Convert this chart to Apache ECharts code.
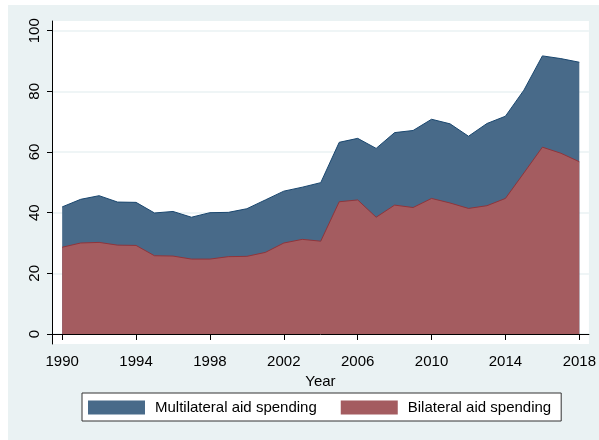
<!DOCTYPE html>
<html>
<head>
<meta charset="utf-8">
<script src="https://cdn.jsdelivr.net/npm/echarts@6/dist/echarts.min.js"></script>
<style>
  html, body { margin: 0; padding: 0; background: #fff; }
  #main { width: 599px; height: 440px; }
</style>
</head>
<body>
<div id="main"></div>
<script>
var years = [1990, 1991, 1992, 1993, 1994, 1995, 1996, 1997, 1998, 1999,
  2000, 2001, 2002, 2003, 2004, 2005, 2006, 2007, 2008, 2009,
  2010, 2011, 2012, 2013, 2014, 2015, 2016, 2017, 2018];
// bilateral aid spending (bottom layer)
var bilateral = [28.6, 30.0, 30.2, 29.3, 29.2, 25.8, 25.7, 24.7, 24.7, 25.5,
  25.6, 26.9, 30.0, 31.2, 30.6, 43.6, 44.2, 38.5, 42.5, 41.7,
  44.7, 43.2, 41.4, 42.3, 44.7, 53.1, 61.6, 59.6, 56.8];
// multilateral aid spending (sits on top of bilateral)
var multilateral = [13.3, 14.4, 15.4, 14.2, 14.2, 14.1, 14.7, 13.8, 15.3, 14.6,
  15.7, 17.3, 17.1, 17.2, 19.3, 19.6, 20.3, 22.7, 23.9, 25.4,
  26.1, 26.1, 23.8, 27.1, 27.1, 27.3, 30.1, 31.2, 32.8];
var xTicks = [1990, 1994, 1998, 2002, 2006, 2010, 2014, 2018];
var yTicks = [0, 20, 40, 60, 80, 100];
var seriesNames = ['Multilateral aid spending', 'Bilateral aid spending'];

// top edge of the multilateral band = bilateral + multilateral
var topData = years.map(function(y, i) { return [y, bilateral[i] + multilateral[i]]; });
var botData = years.map(function(y, i) { return [y, bilateral[i]]; });

var chart = echarts.init(document.getElementById('main'));
var font = 'Liberation Sans, Arial, sans-serif';

chart.setOption({
  animation: false,
  textStyle: { fontFamily: font },
  graphic: [{
    type: 'rect',
    z: -10,
    silent: true,
    shape: { x: 8, y: 5, width: 591, height: 435 },
    style: { fill: '#EAF2F3' }
  }],
  grid: {
    left: 52, top: 21, right: 5, bottom: 96,
    show: true, backgroundColor: '#fff', borderWidth: 0
  },
  legend: {
    data: seriesNames,
    left: 82, top: 393,
    itemWidth: 57, itemHeight: 14, itemGap: 24,
    padding: [7, 10, 6, 6],
    backgroundColor: '#fff',
    borderColor: '#333', borderWidth: 1,
    icon: 'rect',
    textStyle: { fontSize: 15, color: '#000', fontFamily: font, padding: [0, 0, 0, 5] }
  },
  xAxis: {
    type: 'value',
    min: 1989.45, max: 2018.52,
    name: 'Year', nameLocation: 'middle', nameGap: 28,
    nameTextStyle: { fontSize: 15, color: '#000' },
    axisLine: { show: true, lineStyle: { color: '#000', width: 1 } },
    axisTick: { show: true, length: 6, customValues: xTicks, lineStyle: { color: '#000' } },
    axisLabel: {
      customValues: xTicks, fontSize: 15, color: '#000', margin: 10,
      formatter: function(v) { return String(v); }
    },
    splitLine: { show: false }
  },
  yAxis: {
    type: 'value',
    min: -3.3, max: 103.2,
    axisLine: { show: true, lineStyle: { color: '#000', width: 1 } },
    axisTick: { show: true, length: 5, customValues: yTicks, lineStyle: { color: '#000' } },
    axisLabel: { customValues: yTicks, fontSize: 15, color: '#000', rotate: 90, margin: 10 },
    splitLine: { show: true, lineStyle: { color: '#EAF2F3', width: 1.5 } }
  },
  series: [{
    name: 'Multilateral aid spending',
    type: 'line',
    symbol: 'none',
    data: topData,
    itemStyle: { color: '#486A89' },
    lineStyle: { color: '#1A476F', width: 1 },
    areaStyle: { color: '#486A89', opacity: 1, origin: 0 }
  }, {
    name: 'Bilateral aid spending',
    type: 'line',
    symbol: 'none',
    data: botData,
    itemStyle: { color: '#A45C60' },
    lineStyle: { color: '#90353B', width: 1 },
    areaStyle: { color: '#A45C60', opacity: 1, origin: 0 }
  }]
});
</script>
</body>
</html>
